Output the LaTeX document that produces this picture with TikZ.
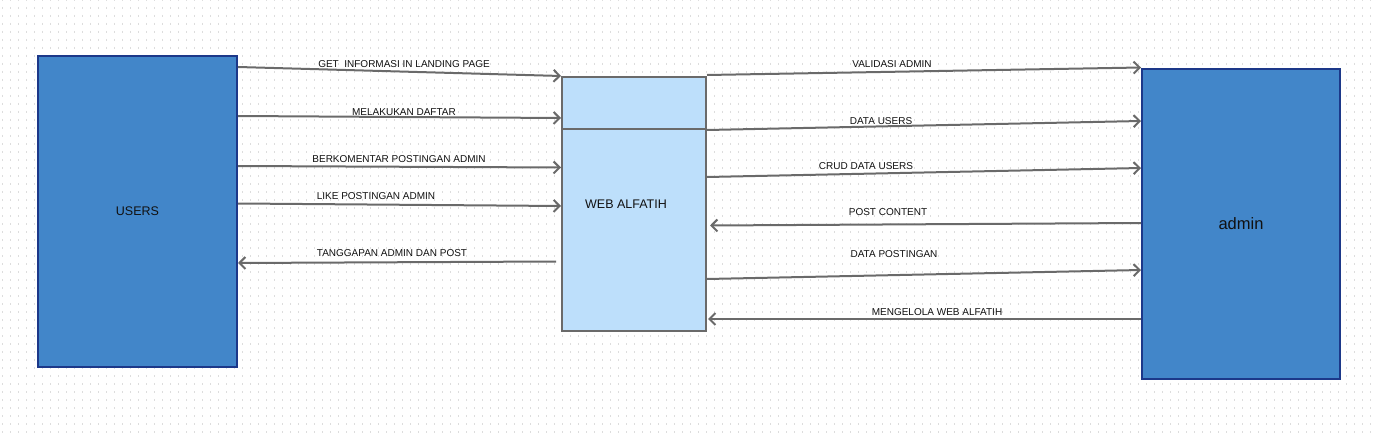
\documentclass[tikz,border=0pt]{standalone}
\usepackage{fontspec}
\setmainfont{Liberation Sans}
\usetikzlibrary{arrows.meta,calc}
\definecolor{ublue}{HTML}{4286C9}
\definecolor{uedge}{HTML}{1C3889}
\definecolor{wfill}{HTML}{BDDFFB}
\definecolor{gline}{HTML}{6A6A6A}
\definecolor{dotc}{HTML}{DDDDDD}
\definecolor{txt}{HTML}{111111}
\begin{document}
\begin{tikzpicture}[x=1pt,y=-1pt,
  ubox/.style={draw=uedge, fill=ublue, line width=2pt, inner sep=0pt,
    text=txt, font=\fontsize{12.5}{14}\selectfont},
  abox/.style={draw=uedge, fill=ublue, line width=2pt, inner sep=0pt,
    text=txt, font=\fontsize{16.5}{18}\selectfont},
  wbox/.style={draw=gline, fill=wfill, line width=2pt, inner sep=0pt},
  wtxt/.style={text=txt, inner sep=0pt, font=\fontsize{12.5}{14}\selectfont},
  lbl/.style={text=txt, inner sep=0pt, font=\fontsize{10}{12}\selectfont},
  flow/.style={draw=gline, line width=2pt, -{Straight Barb[length=6pt,width=12pt]}}
]
\useasboundingbox (0,0) rectangle (1375,433);
\fill[white] (0,0) rectangle (1375,433);
\foreach \i in {0,...,171}
  \draw[dotc, line width=1pt, dash pattern=on 2pt off 6pt] (\i*8+2.7,-1) -- (\i*8+2.7,433);

\node[ubox, minimum width=199pt, minimum height=311pt] (users) at (137.5,211.5) {USERS};
\node[wbox, minimum width=144pt, minimum height=254pt] (web) at (634,204) {};
\node[wtxt] (webt) at (626,204.5) {WEB ALFATIH};
\node[abox, minimum width=198pt, minimum height=310pt] (admin) at (1241,224) {admin};

\draw[gline, line width=2pt] ($(web.north west)+(0,53)$) coordinate (sepl) -- ($(web.north east)+(0,53)$) coordinate (sepr);

% users -> web
\draw[flow] ($(users.north east)+(0,12)$) -- (web.north west);
\draw[flow] ($(users.north east)+(0,61)$) -- ($(web.north west)+(0,42)$);
\draw[flow] ($(users.north east)+(0,111)$) -- ($(web.north west)+(0,91.5)$);
\draw[flow] ($(users.north east)+(0,148.5)$) -- ($(web.north west)+(0,130)$);
\draw[flow] ($(web.north west)+(-5,185.5)$) -- ($(users.north east)+(0,208)$);

% web <-> admin
\draw[flow] ($(web.north east)+(0,-1)$) -- ($(admin.north west)+(0,-0.5)$);
\draw[flow] ($(web.north east)+(0,54)$) -- ($(admin.north west)+(0,53)$);
\draw[flow] ($(web.north east)+(0,101)$) -- ($(admin.north west)+(0,100)$);
\draw[flow] ($(admin.north west)+(0,155)$) -- ($(web.north east)+(3,149.5)$);
\draw[flow] ($(web.north east)+(0,203)$) -- ($(admin.north west)+(0,202)$);
\draw[flow] ($(admin.north west)+(0,251)$) -- ($(web.north east)+(1,243)$);

% labels
\node[lbl] (l1) at (404,64) {GET~\ INFORMASI IN LANDING PAGE};
\node[lbl] (l2) at (404,112) {MELAKUKAN DAFTAR};
\node[lbl] (l3) at (399,159) {BERKOMENTAR POSTINGAN ADMIN};
\node[lbl] (l4) at (376,196) {LIKE POSTINGAN ADMIN};
\node[lbl] (l5) at (392,253.5) {TANGGAPAN ADMIN DAN POST};
\node[lbl] (l6) at (892,64) {VALIDASI ADMIN};
\node[lbl] (l7) at (881,121) {DATA USERS};
\node[lbl] (l8) at (866,166) {CRUD DATA USERS};
\node[lbl] (l9) at (888,212.5) {POST CONTENT};
\node[lbl] (l10) at (894,254) {DATA POSTINGAN};
\node[lbl] (l11) at (937,312) {MENGELOLA WEB ALFATIH};
\end{tikzpicture}
\end{document}
